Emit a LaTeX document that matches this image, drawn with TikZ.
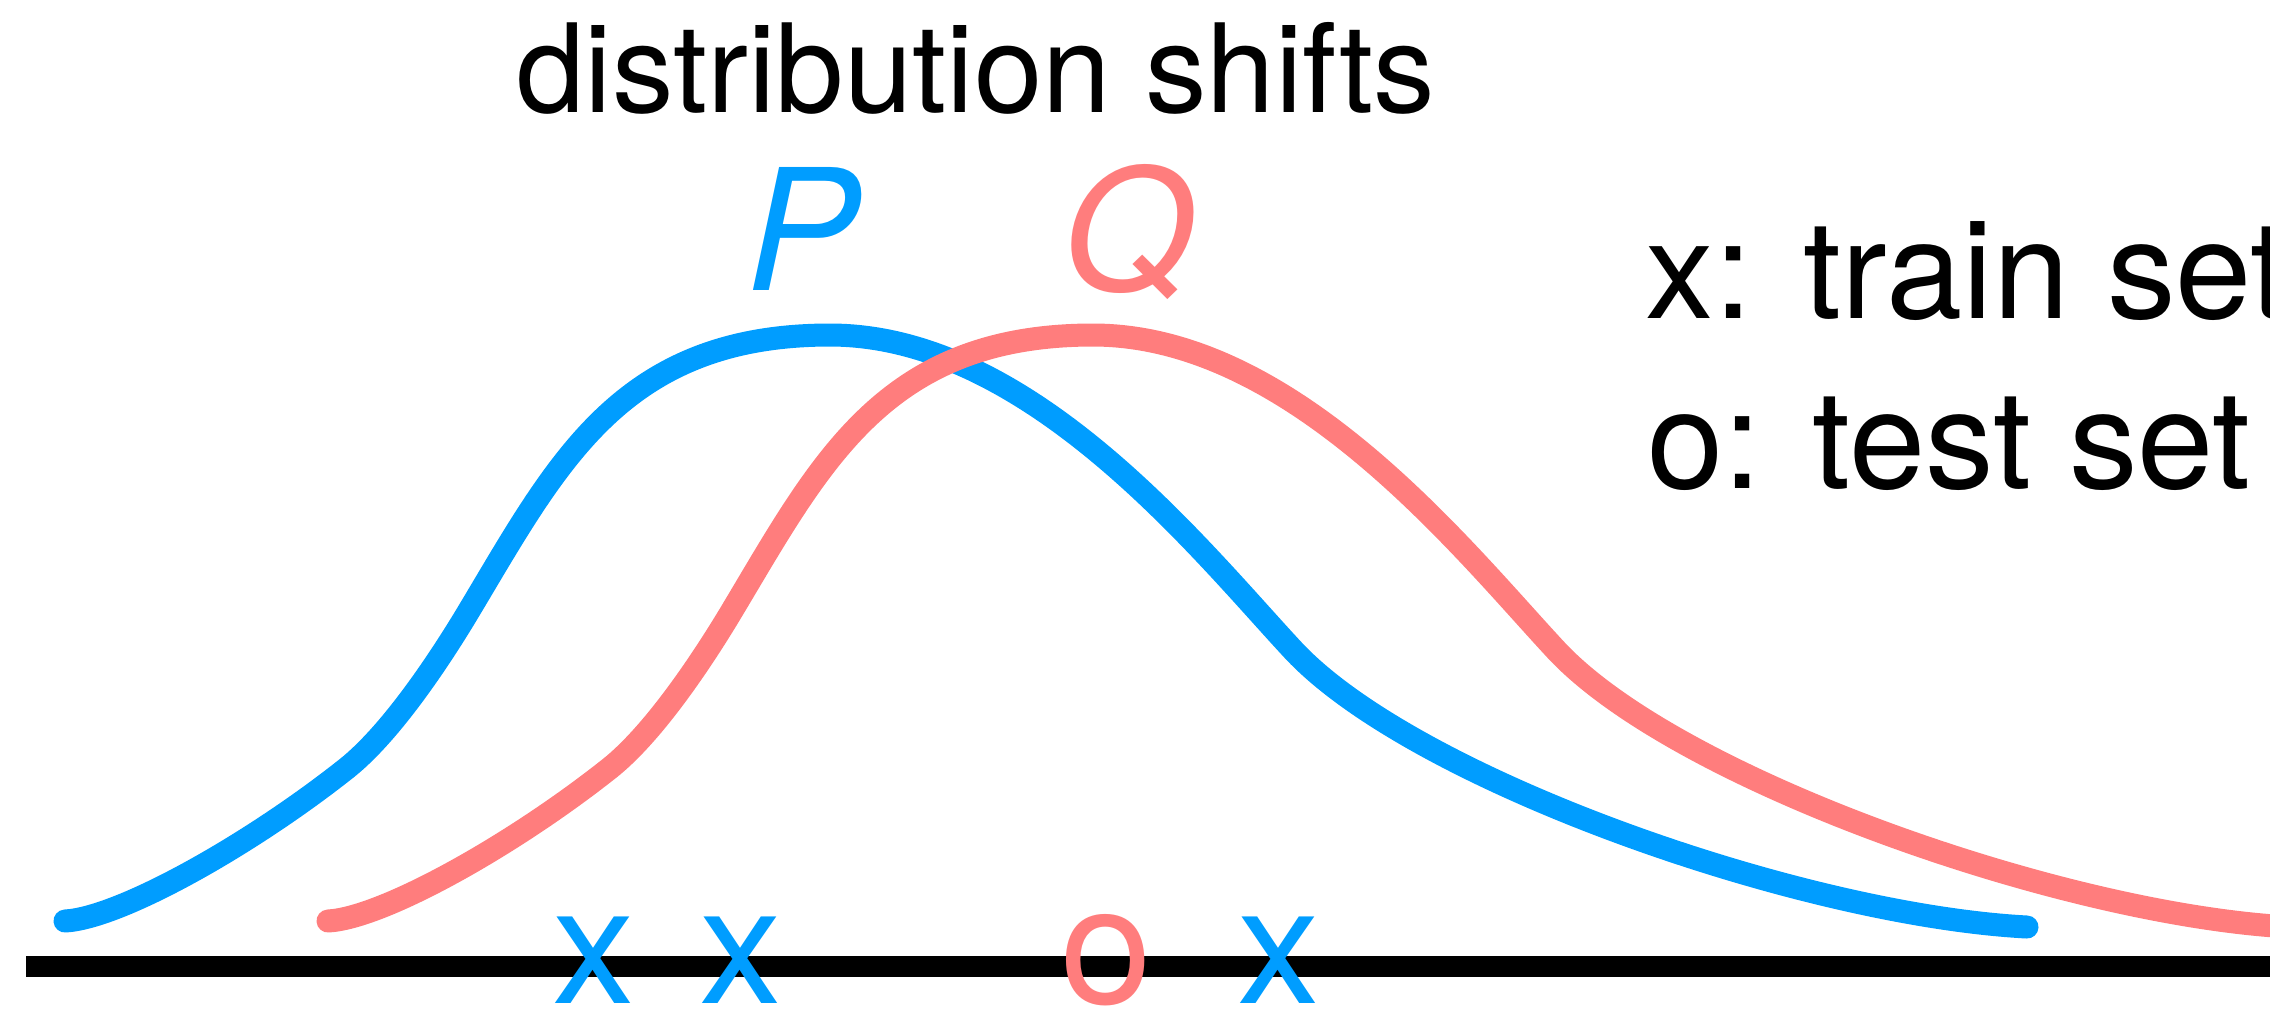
\documentclass[tikz,border=0pt]{standalone}
\usepackage{fontspec}
\setmainfont{TeX Gyre Heros}
\usepackage{xcolor}
\usepackage{tikz}
\definecolor{pblue}{RGB}{0, 157, 255}
\definecolor{qred}{RGB}{255, 125, 125}

\begin{document}
\begin{tikzpicture}[x=0.01cm, y=-0.01cm]
    \tikzstyle{densityline} = [line width=0.23cm, line cap=round, line join=round]
    \tikzstyle{axisline} = [line width=0.21cm, black]
    \tikzstyle{heading} = [inner sep=0pt, anchor=base, font=\fontsize{35pt}{42pt}\selectfont]
    \tikzstyle{keytext} = [inner sep=0pt, anchor=base west, font=\fontsize{39pt}{46pt}\selectfont]
    \tikzstyle{distname} = [inner sep=0pt, anchor=base, font=\fontsize{48pt}{56pt}\selectfont\itshape]
    \tikzstyle{sample} = [inner sep=0pt, anchor=base, font=\fontsize{47pt}{56pt}\selectfont]

    \useasboundingbox (0,0) rectangle (2270,1011);
    \clip (0,0) rectangle (2270,1011);

    % axis
    \draw[axisline] (26,966) -- (2300,966);

    % the two densities (Q is P shifted right)
    \foreach \col/\shift in {pblue/0, qred/263} {
        \draw[densityline, draw=\col, xshift=\shift*0.01cm] (65,921)
            .. controls (120,918) and (250,845) .. (347,768)
            .. controls (387,736) and (432,672) .. (467,614)
            .. controls (557,464) and (620,335) .. (830,335)
            .. controls (1030,335) and (1200,550) .. (1293,650)
            .. controls (1413,779) and (1800,915) .. (2027,927);
    }

    % texts
    \node[heading] (title) at (976,112) {distribution shifts};
    \node[distname, text=pblue] (P) at (803,290) {P};
    \node[distname, text=qred] (Q) at (1128,290) {Q};
    \node[keytext] (trainkey) at (1645,318) {x: train set};
    \node[keytext] (testkey) at (1647,488) {o: test set};

    % samples on the axis
    \node[sample, text=pblue] (x1) at (594,1003) {x};
    \node[sample, text=pblue] (x2) at (741,1003) {x};
    \node[sample, text=qred] (o1) at (1106,1003) {o};
    \node[sample, text=pblue] (x3) at (1279,1003) {x};
\end{tikzpicture}
\end{document}
